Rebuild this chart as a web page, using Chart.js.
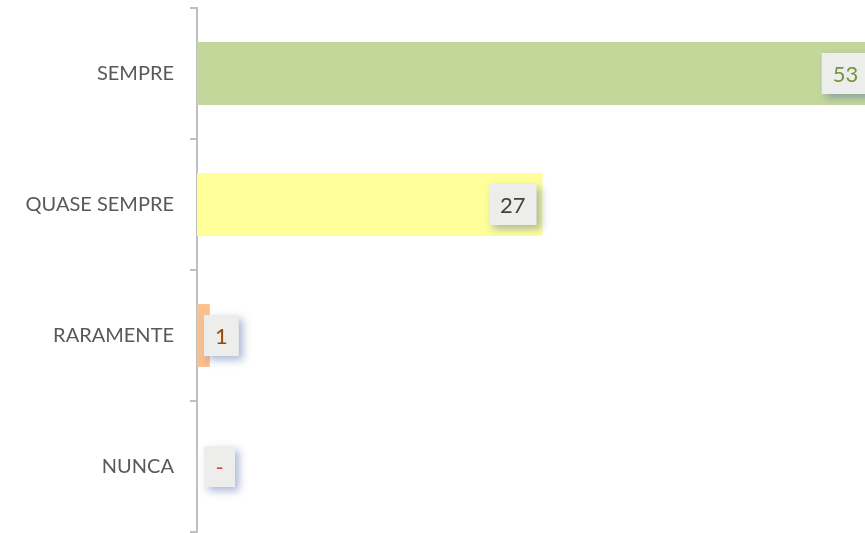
<!DOCTYPE html>
<html>
<head>
<meta charset="utf-8">
<script src="https://cdn.jsdelivr.net/npm/chart.js@4.4.1/dist/chart.umd.min.js"></script>
<style>
  html, body { margin: 0; padding: 0; background: #ffffff; }
  #wrap { width: 865px; height: 533px; }
</style>
</head>
<body>
<div id="wrap"><canvas id="grafico" width="865" height="533"></canvas></div>
<script>
// categorias e valores
const categorias = ["SEMPRE", "QUASE SEMPRE", "RARAMENTE", "NUNCA"];
const valores = [53, 27, 1, 0];
const rotulos = ["53", "27", "1", "-"];
const coresBarra = ["#C4D79B", "#FFFF99", "#FAC090", "#DDDDDD"];
const coresTexto = ["#77933C", "#404040", "#984807", "#E0423A"];

// rótulos de dados em caixinha com sombra (estilo Excel)
const caixaRotulos = {
  id: "caixaRotulos",
  afterDatasetsDraw(chart) {
    const ctx = chart.ctx;
    const meta = chart.getDatasetMeta(0);
    const x0 = chart.chartArea.left;
    ctx.save();
    ctx.font = "22px Lato";
    meta.data.forEach((bar, i) => {
      const txt = rotulos[i];
      const w = Math.max(31, ctx.measureText(txt).width + 22);
      const h = 41;
      let bx = Math.max(bar.x - 6 - w, x0 + 7);
      const by = bar.y - h / 2;
      // caixa + sombra
      ctx.shadowColor = "rgba(70,100,160,0.45)";
      ctx.shadowBlur = 8;
      ctx.shadowOffsetX = 4;
      ctx.shadowOffsetY = 4;
      ctx.fillStyle = "#EDEEEC";
      ctx.fillRect(bx, by, w, h);
      ctx.shadowColor = "transparent";
      ctx.fillStyle = coresTexto[i];
      ctx.textAlign = "center";
      ctx.textBaseline = "middle";
      ctx.fillText(txt, bx + w / 2, bar.y + 1);
    });
    ctx.restore();
  }
};

new Chart(document.getElementById("grafico"), {
  type: "bar",
  data: {
    labels: categorias,
    datasets: [{
      data: valores,
      backgroundColor: coresBarra,
      borderWidth: 0,
      categoryPercentage: 1,
      barPercentage: 0.48
    }]
  },
  options: {
    indexAxis: "y",
    responsive: false,
    animation: false,
    layout: { padding: { top: 8, bottom: 1, left: 0, right: 0 } },
    plugins: { legend: { display: false }, tooltip: { enabled: false } },
    scales: {
      x: { display: false, min: 0, max: 52.2 },
      y: {
        afterFit: (s) => { s.width = 197; s.paddingTop = 0; s.paddingBottom = 0; },
        border: { color: "#BFBFBF", width: 2 },
        grid: { drawOnChartArea: false, offset: true, tickLength: 7, color: "#BFBFBF", lineWidth: 2 },
        ticks: { color: "#595959", padding: 16, font: { family: "Lato", size: 20 } }
      }
    }
  },
  plugins: [caixaRotulos]
});
</script>
</body>
</html>
